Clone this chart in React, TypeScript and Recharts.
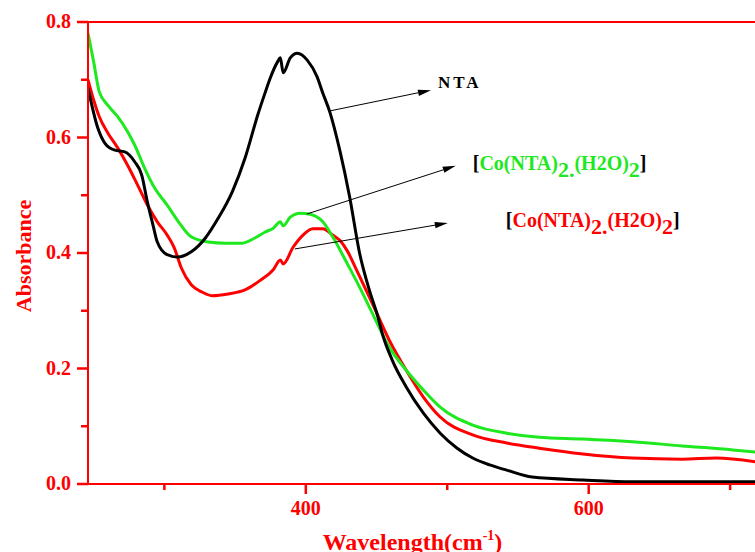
import { LineChart, Line, XAxis, YAxis, ReferenceLine, Label } from "recharts";

// NTA (black)
const ntaWavelength = [
  246, 253, 258, 265, 272, 279, 284, 288, 292, 295, 302, 309, 319, 329, 338,
  348, 357, 366, 371, 375, 380, 382, 384, 389, 394, 401, 408, 412, 417, 424,
  431, 438, 445, 451, 454, 461, 471, 483, 495, 507, 518, 530, 542, 560, 596,
  631, 678, 719,
];
const ntaAbsorbance = [
  0.686, 0.616, 0.59, 0.578, 0.575, 0.558, 0.535, 0.488, 0.448, 0.419, 0.397,
  0.393, 0.402, 0.426, 0.46, 0.506, 0.564, 0.639, 0.676, 0.704, 0.731, 0.738,
  0.712, 0.738, 0.746, 0.734, 0.705, 0.677, 0.644, 0.578, 0.497, 0.4, 0.335,
  0.289, 0.261, 0.215, 0.168, 0.123, 0.088, 0.062, 0.045, 0.033, 0.024, 0.012,
  0.007, 0.004, 0.004, 0.004,
];

// [Co(NTA)2.(H2O)2] (green)
const greenWavelength = [
  246, 250, 254, 260, 267, 274, 279, 286, 293, 302, 310, 319, 331, 343, 355,
  364, 371, 377, 382, 384, 389, 396, 403, 412, 419, 429, 438, 447, 459, 471,
  483, 495, 518, 542, 565, 596, 631, 666, 702, 719,
];
const greenAbsorbance = [
  0.781, 0.731, 0.679, 0.656, 0.636, 0.61, 0.587, 0.547, 0.513, 0.483, 0.454,
  0.428, 0.419, 0.417, 0.417, 0.426, 0.436, 0.443, 0.454, 0.447, 0.462, 0.469,
  0.467, 0.454, 0.428, 0.383, 0.341, 0.296, 0.237, 0.197, 0.163, 0.133, 0.102,
  0.088, 0.081, 0.078, 0.073, 0.066, 0.059, 0.055,
];

// [Co(NTA)2.(H2O)2] (red)
const redWavelength = [
  246, 250, 254, 260, 267, 274, 281, 288, 295, 302, 307, 312, 319, 327, 334,
  345, 357, 368, 377, 382, 384, 391, 398, 405, 412, 419, 424, 429, 436, 447,
  459, 471, 483, 495, 518, 542, 565, 596, 631, 666, 690, 719,
];
const redAbsorbance = [
  0.7, 0.665, 0.636, 0.608, 0.582, 0.552, 0.518, 0.483, 0.454, 0.431, 0.409,
  0.374, 0.345, 0.332, 0.326, 0.329, 0.336, 0.353, 0.371, 0.388, 0.381, 0.41,
  0.431, 0.442, 0.442, 0.431, 0.422, 0.405, 0.37, 0.313, 0.249, 0.197, 0.151,
  0.116, 0.085, 0.071, 0.062, 0.052, 0.045, 0.043, 0.045, 0.038,
];

const xMajorTicks = [400, 600];
const xMinorTicks = [300, 500, 700];
const yMajorTicks = [0, 0.2, 0.4, 0.6, 0.8];
const yMinorTicks = [0.1, 0.3, 0.5, 0.7];
const topTicks = [1, 2, 3, 4, 5, 6, 7, 8, 9];
const rightTicks = [1, 2, 3, 4];

const X_MIN = 246;
const X_MAX = 719;
const Y_MAX = 0.8;
// tick mark lengths expressed in axis units (px / px-per-unit)
const PX_PER_Y = 462 / Y_MAX;
const PX_PER_X = 669 / (X_MAX - X_MIN);

const RED = "#ff0000";
const GREEN = "#1ee81e";
const FONT = '"Liberation Serif", "Times New Roman", serif';
const axisStroke = { stroke: RED, strokeWidth: 2 };

const toPoints = (w: number[], a: number[]) =>
  w.map((x, i) => ({ w: x, a: a[i] }));

const ntaData = toPoints(ntaWavelength, ntaAbsorbance);
const greenData = toPoints(greenWavelength, greenAbsorbance);
const redData = toPoints(redWavelength, redAbsorbance);

const renderBottomLabel = ({ x, y, payload }: any) => (
  <text x={x} y={y + 31} textAnchor="middle" fill={RED} stroke="none" fontSize={20} fontWeight="bold" fontFamily={FONT}>
    {payload.value}
  </text>
);

const renderLeftLabel = ({ x, y, payload }: any) => (
  <text x={x - 17} y={y + 6} textAnchor="end" fill={RED} stroke="none" fontSize={20} fontWeight="bold" fontFamily={FONT}>
    {payload.value.toFixed(1)}
  </text>
);

function complexLabel(color: string) {
  return (x: number, y: number) => (
    <text x={x} y={y} fontSize={20} fontWeight="bold" fontFamily={FONT} stroke="none">
      <tspan fill="#000">[</tspan>
      <tspan fill={color}>Co(NTA)</tspan>
      <tspan fill={color} dy={7} fontSize={22}>2.</tspan>
      <tspan fill={color} dy={-7}>(H2O)</tspan>
      <tspan fill={color} dy={7} fontSize={22}>2</tspan>
      <tspan fill="#000" dy={-7}>]</tspan>
    </text>
  );
}

const annotations = [
  {
    from: { x: 417, y: 0.646 },
    to: { x: 488.5, y: 0.682 },
    dx: 7,
    dy: -2,
    label: (x: number, y: number) => (
      <text x={x} y={y} fontSize={17} fontWeight="bold" fontFamily={FONT} fill="#000" stroke="none" letterSpacing={3}>
        NTA
      </text>
    ),
  },
  { from: { x: 400.7, y: 0.4675 }, to: { x: 506, y: 0.551 }, dx: 17, dy: 4, label: complexLabel(GREEN) },
  { from: { x: 392.2, y: 0.407 }, to: { x: 500.4, y: 0.452 }, dx: 58, dy: 4, label: complexLabel(RED) },
];

function arrowShape(dx: number, dy: number, label: (x: number, y: number) => any) {
  return (p: any) => {
    const { x1, y1, x2, y2 } = p;
    const ang = Math.atan2(y2 - y1, x2 - x1);
    const len = 13;
    const hw = 3.2;
    const bx = x2 - len * Math.cos(ang);
    const by = y2 - len * Math.sin(ang);
    const nx = -Math.sin(ang) * hw;
    const ny = Math.cos(ang) * hw;
    return (
      <g>
        <line x1={x1} y1={y1} x2={bx} y2={by} stroke="#000" strokeWidth={1} />
        <polygon points={`${x2},${y2} ${bx + nx},${by + ny} ${bx - nx},${by - ny}`} fill="#000" />
        {label(x2 + dx, y2 + dy)}
      </g>
    );
  };
}

export default function App() {
  const bottomTicks = [
    ...xMajorTicks.map((v) => ({ v, len: 10 })),
    ...xMinorTicks.map((v) => ({ v, len: 6 })),
  ];
  const leftTicks = [
    ...yMajorTicks.map((v) => ({ v, len: 11 })),
    ...yMinorTicks.map((v) => ({ v, len: 7 })),
  ];

  return (
    <div
      style={{
        position: "fixed",
        left: 0,
        top: 0,
        width: 755,
        height: 552,
        overflow: "hidden",
        background: "#fff",
      }}
    >
      <LineChart width={757} height={570} margin={{ top: 22, right: 0, bottom: 0, left: 0 }}>
        <XAxis
          dataKey="w"
          type="number"
          domain={[X_MIN, X_MAX]}
          ticks={xMajorTicks}
          interval={0}
          allowDataOverflow
          height={86}
          tickSize={0}
          tickMargin={0}
          tickLine={false}
          tick={renderBottomLabel}
          axisLine={axisStroke}
        >
          <Label
            content={({ viewBox }: any) => (
              <text
                x={viewBox.x + viewBox.width / 2 - 10}
                y={550}
                textAnchor="middle"
                fill={RED}
                fontSize={24}
                fontWeight="bold"
                fontFamily={FONT}
              >
                Wavelength(cm
                <tspan fontSize={14} dy={-10}>-1</tspan>
                <tspan dy={10}>)</tspan>
              </text>
            )}
          />
        </XAxis>
        <XAxis
          xAxisId="top"
          orientation="top"
          mirror
          type="number"
          domain={[0, 9.925]}
          ticks={topTicks}
          interval={0}
          tick={false}
          tickLine={false}
          axisLine={axisStroke}
        />
        <YAxis
          type="number"
          domain={[0, Y_MAX]}
          ticks={yMajorTicks}
          interval={0}
          width={88}
          tickSize={0}
          tickMargin={0}
          tickLine={false}
          tick={renderLeftLabel}
          axisLine={axisStroke}
        >
          <Label
            content={() => (
              <text
                x={31}
                y={256}
                transform="rotate(-90, 31, 256)"
                textAnchor="middle"
                fill={RED}
                fontSize={22}
                fontWeight="bold"
                fontFamily={FONT}
              >
                Absorbance
              </text>
            )}
          />
        </YAxis>
        <YAxis
          yAxisId="right"
          orientation="right"
          mirror
          type="number"
          domain={[0, 5.286]}
          reversed
          ticks={rightTicks}
          interval={0}
          tick={false}
          tickLine={false}
          axisLine={axisStroke}
        />
        <Line data={redData} dataKey="a" type="monotone" stroke={RED} strokeWidth={3} dot={false} isAnimationActive={false} />
        <Line data={greenData} dataKey="a" type="monotone" stroke={GREEN} strokeWidth={3} dot={false} isAnimationActive={false} />
        <Line data={ntaData} dataKey="a" type="monotone" stroke="#000" strokeWidth={3} dot={false} isAnimationActive={false} />

        {annotations.map((an, i) => (
          <ReferenceLine
            key={i}
            segment={[an.from, an.to]}
            ifOverflow="visible"
            shape={arrowShape(an.dx, an.dy, an.label)}
          />
        ))}

        {/* tick marks, placed through the axis scales */}
        {bottomTicks.map((t, i) => (
          <ReferenceLine
            key={100 + i}
            segment={[{ x: t.v, y: 0 }, { x: t.v, y: -t.len / PX_PER_Y }]}
            ifOverflow="visible"
            stroke={RED}
            strokeWidth={2.5}
          />
        ))}
        {leftTicks.map((t, i) => (
          <ReferenceLine
            key={200 + i}
            segment={[{ x: X_MIN, y: t.v }, { x: X_MIN - t.len / PX_PER_X, y: t.v }]}
            ifOverflow="visible"
            stroke={RED}
            strokeWidth={2.5}
          />
        ))}
        {topTicks.map((v, i) => (
          <ReferenceLine
            key={300 + i}
            xAxisId="top"
            segment={[{ x: v, y: Y_MAX }, { x: v, y: Y_MAX - 6 / PX_PER_Y }]}
            ifOverflow="visible"
            stroke={RED}
            strokeWidth={2.5}
          />
        ))}
        {rightTicks.map((v, i) => (
          <ReferenceLine
            key={400 + i}
            yAxisId="right"
            segment={[{ x: X_MAX, y: v }, { x: X_MAX - 5 / PX_PER_X, y: v }]}
            ifOverflow="visible"
            stroke={RED}
            strokeWidth={2.5}
          />
        ))}
      </LineChart>
    </div>
  );
}
